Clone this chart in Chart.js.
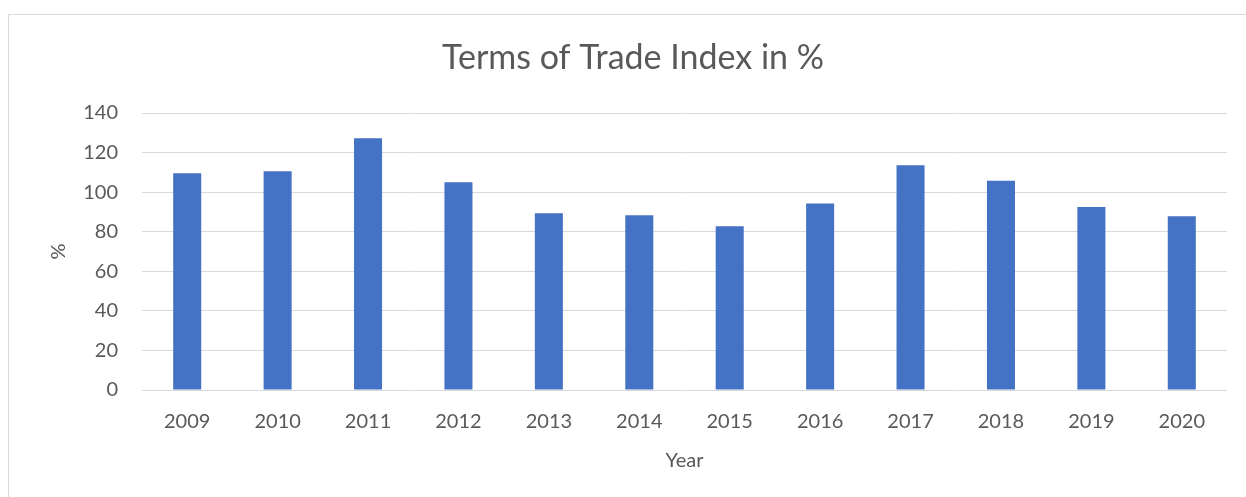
<!DOCTYPE html>
<html>
<head>
<meta charset="utf-8">
<script src="https://cdn.jsdelivr.net/npm/chart.js@4.4.1/dist/chart.umd.min.js"></script>
<style>
  html, body { margin: 0; padding: 0; background: #fff; }
  #wrap { position: relative; width: 1246px; height: 497px; overflow: hidden; }
  #frame { position: absolute; left: 8px; top: 14px; width: 1300px; height: 600px;
           border-left: 1px solid #d9d9d9; border-top: 1px solid #d9d9d9; }
  canvas { position: absolute; left: 0; top: 0; }
</style>
</head>
<body>
<div id="wrap">
  <div id="frame"></div>
  <canvas id="area" width="1246" height="497"></canvas>
</div>
<script>
      var years = ["2009","2010","2011","2012","2013","2014","2015","2016","2017","2018","2019","2020"];
      var tradeIndex = [109.6,110.6,127.3,105.0,89.3,88.3,82.7,94.2,113.6,105.7,92.5,87.8];
      var yTicks = [0,20,40,60,80,100,120,140];
      var chartTitle = 'Terms of Trade Index in %';

      var grey = '#595959';
      var fontName = "Lato, 'Open Sans', sans-serif";

      // title sits a bit right of the canvas centre, like the Excel original
      var titlePlugin = {
        id: 'excelTitle',
        afterDraw: function (chart) {
          var c = chart.ctx;
          c.save();
          c.font = '34px ' + fontName;
          c.fillStyle = grey;
          c.textAlign = 'center';
          c.textBaseline = 'middle';
          c.fillText(chartTitle, 633, 58);
          c.restore();
        }
      };

      var ctx = document.getElementById("area");
      var myChart = new Chart(ctx, {
        type: 'bar',
        data: {
          labels: years,
          datasets: [
            {
              label: "Terms of Trade Index",
              data: tradeIndex,
              backgroundColor: '#4472C4',
              barPercentage: 0.31,
              categoryPercentage: 1
            }
          ]
        },
        options: {
          responsive: false,
          animation: false,
          layout: { padding: { left: 0, right: 19, top: 113, bottom: 0 } },
          plugins: {
            legend: { display: false },
            tooltip: { enabled: false },
            title: { display: false }
          },
          scales: {
            x: {
              grid: { display: false },
              border: { display: false },
              ticks: { color: grey, font: { family: fontName, size: 20 }, padding: 12, maxRotation: 0 },
              title: { display: true, text: 'Year', color: grey, font: { family: fontName, size: 20 }, padding: { top: 0, bottom: 24 } },
              afterFit: function (s) { s.height = 107; }
            },
            y: {
              min: 0,
              max: 140,
              afterBuildTicks: function (s) { s.ticks = yTicks.map(function (v) { return { value: v }; }); },
              grid: { color: '#d9d9d9', lineWidth: 1, drawTicks: false },
              border: { display: false },
              ticks: { color: grey, font: { family: fontName, size: 20 }, padding: 24 },
              title: { display: true, text: '%', color: grey, font: { family: fontName, size: 20 }, padding: { top: 47, bottom: 0 } },
              afterFit: function (s) { s.width = 142; }
            }
          }
        },
        plugins: [titlePlugin]
      });
</script>
</body>
</html>
